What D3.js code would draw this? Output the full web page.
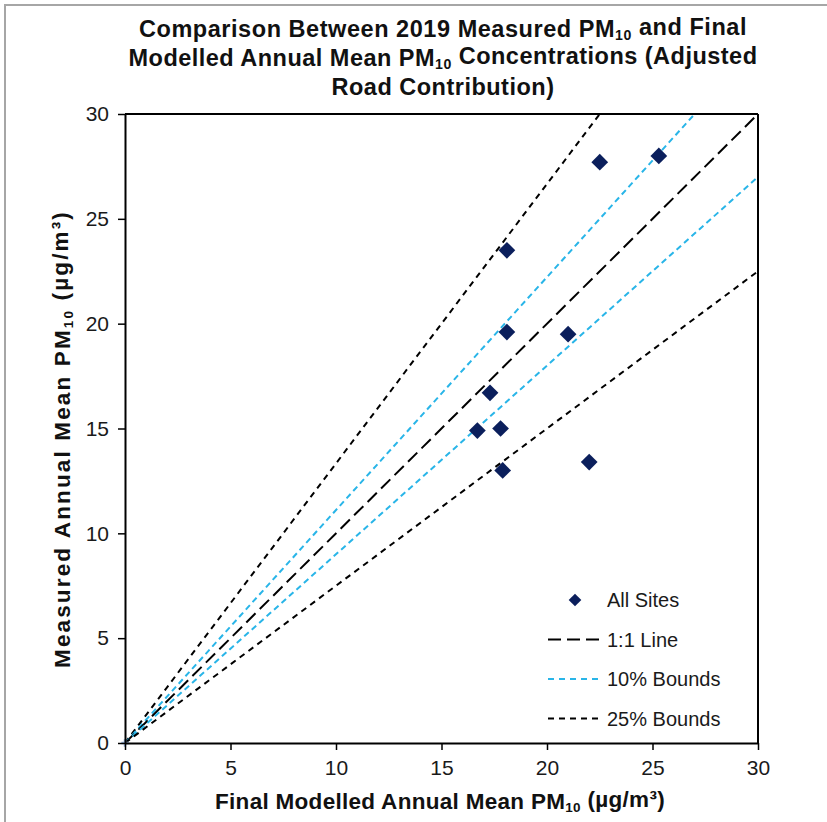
<!DOCTYPE html>
<html>
<head>
<meta charset="utf-8">
<script src="https://cdn.jsdelivr.net/npm/d3@7"></script>
<style>
  body { margin: 0; background: #fff; }
  text { font-family: "Liberation Sans", Arial, sans-serif; }
</style>
</head>
<body>
<script>
// chart size
let width = 827, height = 822;

let margin = {top: 114, bottom: 79, left: 125, right: 69};

// data: modelled (x) vs measured (y)
const modelled = [22.5, 25.3, 18.1, 18.1, 21.0, 17.3, 16.7, 17.8, 17.9, 22.0];
const measured = [27.7, 28.0, 23.5, 19.6, 19.5, 16.7, 14.9, 15.0, 13.0, 13.4];

const tickValues = [0, 5, 10, 15, 20, 25, 30];

// reference lines: measured = modelled * factor
const lineNames = ["25% Bounds", "10% Bounds", "1:1 Line", "10% Bounds", "25% Bounds"];
const lineFactors = [1 / 0.75, 1 / 0.9, 1, 0.9, 0.75];

const legendLabels = ["All Sites", "1:1 Line", "10% Bounds", "25% Bounds"];

let svg = d3.select('body')
  .append('svg')
  .attr('width', width)
  .attr('height', height);

// outer frame (only top and left visible)
svg.append("rect")
  .attr("x", 5).attr("y", 5)
  .attr("width", 900).attr("height", 900)
  .attr("fill", "none")
  .attr("stroke", "#a6a6a6")
  .attr("stroke-width", 2);

const xScale = d3.scaleLinear()
  .domain([0, 30])
  .range([margin.left, width - margin.right]);

const yScale = d3.scaleLinear()
  .domain([0, 30])
  .range([height - margin.bottom, margin.top]);

// line styles
function lineStyle(name) {
  if (name === "1:1 Line") return {color: "#000", dash: "13,6"};
  if (name === "10% Bounds") return {color: "#29b5e8", dash: "6,4"};
  return {color: "#000", dash: "6,5"};
}

// reference lines, clipped to the 0-30 box
lineFactors.forEach(function(f, i) {
  const xEnd = Math.min(30, 30 / f);
  const st = lineStyle(lineNames[i]);
  svg.append("line")
    .attr("x1", xScale(0)).attr("y1", yScale(0))
    .attr("x2", xScale(xEnd)).attr("y2", yScale(xEnd * f))
    .attr("stroke", st.color)
    .attr("stroke-width", 2)
    .attr("stroke-dasharray", st.dash);
});

// small marker at origin
svg.append("path")
  .attr("d", d3.symbol(d3.symbolCross, 30)())
  .attr("transform", `translate(${xScale(0)},${yScale(0)})`)
  .attr("fill", "#8fa9d0");

// axes
const xAxis = svg.append("g")
  .attr("transform", `translate(0,${height - margin.bottom})`)
  .call(d3.axisBottom(xScale).tickValues(tickValues).tickSizeInner(7).tickSizeOuter(0).tickPadding(10));

const yAxis = svg.append("g")
  .attr("transform", `translate(${margin.left},0)`)
  .call(d3.axisLeft(yScale).tickValues(tickValues).tickSizeInner(7).tickSizeOuter(0).tickPadding(9));

[xAxis, yAxis].forEach(function(ax) {
  ax.select(".domain").attr("stroke", "#000").attr("stroke-width", 2);
  ax.selectAll(".tick line").attr("stroke", "#000").attr("stroke-width", 1.5);
  ax.selectAll(".tick text")
    .attr("fill", "#1a1a1a")
    .style("font-size", "21px")
    .style("font-family", "'Liberation Sans', Arial, sans-serif");
});

// top and right box lines
svg.append("line")
  .attr("x1", xScale(0)).attr("x2", xScale(30))
  .attr("y1", yScale(30)).attr("y2", yScale(30))
  .attr("stroke", "#000").attr("stroke-width", 2);
svg.append("line")
  .attr("x1", xScale(30)).attr("x2", xScale(30))
  .attr("y1", yScale(30)).attr("y2", yScale(0))
  .attr("stroke", "#000").attr("stroke-width", 2);

// points
const diamond = d3.symbol(d3.symbolSquare, 140);
svg.selectAll(".pt")
  .data(modelled)
  .enter()
  .append("path")
  .attr("class", "pt")
  .attr("d", diamond())
  .attr("transform", (d, i) => `translate(${xScale(d)},${yScale(measured[i])}) rotate(45)`)
  .attr("fill", "#0b1f5c");

// legend
const legend = svg.append("g");
legendLabels.forEach(function(lab, i) {
  const ly = 600 + i * 39.5;
  if (i === 0) {
    legend.append("path")
      .attr("d", d3.symbol(d3.symbolSquare, 80)())
      .attr("transform", `translate(575,${ly}) rotate(45)`)
      .attr("fill", "#0b1f5c");
  } else {
    const st = lineStyle(lab);
    legend.append("line")
      .attr("x1", 548).attr("x2", 599)
      .attr("y1", ly).attr("y2", ly)
      .attr("stroke", st.color)
      .attr("stroke-width", 2)
      .attr("stroke-dasharray", lab === "1:1 Line" ? "13,6" : "6,5");
  }
  legend.append("text")
    .attr("x", 607).attr("y", ly)
    .attr("dy", "0.35em")
    .attr("fill", "#1a1a1a")
    .style("font-size", "20px")
    .text(lab);
});

// helper to write PM10 with subscript
function pmText(sel, parts) {
  parts.forEach(function(p) {
    if (p.sub) {
      sel.append("tspan").attr("dy", "0.22em").style("font-size", "0.6em").text(p.t);
      sel.append("tspan").attr("dy", "-0.22em").text(" ");
    } else {
      sel.append("tspan").text(p.t);
    }
  });
}

// stretch a text to a wanted width with letter spacing
function fitWidth(sel, target) {
  const node = sel.node();
  const w = node.getComputedTextLength();
  const n = node.textContent.length;
  sel.style("letter-spacing", ((target - w) / n) + "px");
}

// title
const titleLines = [
  [{t: "Comparison Between 2019 Measured PM"}, {t: "10", sub: true}, {t: "and Final"}],
  [{t: "Modelled Annual Mean PM"}, {t: "10", sub: true}, {t: "Concentrations (Adjusted"}],
  [{t: "Road Contribution)"}]
];
const titleWidths = [608, 629, 223];
titleLines.forEach(function(parts, i) {
  const t = svg.append("text")
    .attr("x", 443).attr("y", 37 + i * 29)
    .attr("text-anchor", "middle")
    .attr("fill", "#111")
    .style("font-size", "23.5px")
    .style("font-weight", "bold");
  pmText(t, parts);
  fitWidth(t, titleWidths[i]);
});

// x axis title
const xt = svg.append("text")
  .attr("x", 440).attr("y", 809)
  .attr("text-anchor", "middle")
  .attr("fill", "#111")
  .style("font-size", "22.5px")
  .style("font-weight", "bold");
pmText(xt, [{t: "Final Modelled Annual Mean PM"}, {t: "10", sub: true}, {t: "(\u00b5g/m\u00b3)"}]);
fitWidth(xt, 450);

// y axis title
const yt = svg.append("text")
  .attr("transform", `translate(70,439) rotate(-90)`)
  .attr("text-anchor", "middle")
  .attr("fill", "#111")
  .style("font-size", "22.5px")
  .style("font-weight", "bold");
pmText(yt, [{t: "Measured Annual Mean PM"}, {t: "10", sub: true}, {t: "(\u00b5g/m\u00b3)"}]);
fitWidth(yt, 458);
</script>
</body>
</html>
